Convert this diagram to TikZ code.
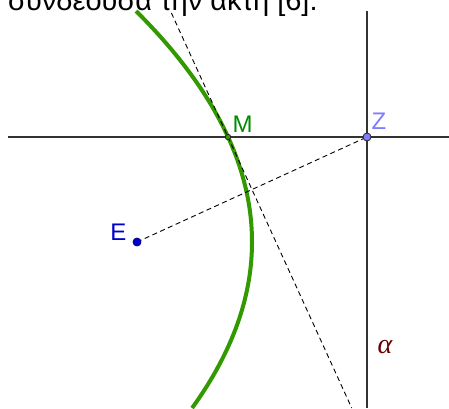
\documentclass[tikz,border=0pt]{standalone}
\usepackage{fontspec}
\setmainfont{Liberation Sans}
\newfontfamily\alphafont{Liberation Serif}
\definecolor{pargreen}{RGB}{51,153,0}
\definecolor{mgreen}{RGB}{0,140,0}
\definecolor{zblue}{RGB}{125,125,255}
\definecolor{eblue}{RGB}{0,0,204}
\definecolor{alphared}{RGB}{102,0,0}
\begin{document}
\begin{tikzpicture}[
            x=1pt, y=-1pt,
            guide/.style={draw=black!80, line width=1.3pt},
            aux/.style={draw=black, line width=0.9pt, dash pattern=on 5pt off 3.5pt},
            parab/.style={draw=pargreen, line width=4pt},
            ptdot/.style={circle, draw=black!85, line width=0.8pt, inner sep=0pt, minimum size=#1},
            lbl/.style={inner sep=0pt, font=\fontsize{24}{28}\selectfont}
        ]
        \useasboundingbox (0,0) rectangle (449,408);
        \clip (0,0) rectangle (449,408);

        % ==========================================
        % TEXT LINE (cut off by the frame)
        % ==========================================
        \node[anchor=base west, inner sep=0pt, font=\fontsize{29}{34}\selectfont] (caption) at (8,10) {συνδέουσα την ακτή [6].};

        % Points and free ends
        \coordinate (e) at (137,242);
        \coordinate (m) at (228,137);
        \coordinate (z) at (367,137);
        \coordinate (hl) at (8,137);
        \coordinate (hr) at (449,137);
        \coordinate (atop) at (367,11);
        \coordinate (abot) at (367,408);
        \coordinate (ttop) at (171.4,13);
        \coordinate (tbot) at (351.7,408);

        % ==========================================
        % LINES
        % ==========================================
        \draw[guide] (hl) -- (hr);
        \draw[guide] (atop) -- (abot);

        % Parabola: focus E, directrix alpha
        \draw[parab] plot[domain=11:408, samples=90, smooth] ({252-((\x-242)/21.448)^2}, \x);

        % Dashed: E to Z, tangent at M
        \draw[aux] (e) -- (z);
        \draw[aux] (ttop) -- (tbot);

        % ==========================================
        % POINTS AND LABELS
        % ==========================================
        \node[ptdot=8pt, fill=zblue] (Zdot) at (z) {};
        \node[ptdot=5.5pt, fill=pargreen] (Mdot) at (m) {};
        \node[ptdot=8pt, fill=eblue, draw=eblue!70!black] (Edot) at (e) {};

        \node[lbl, text=zblue] (Zlbl) at (379,121.5) {Z};
        \node[lbl, text=mgreen] (Mlbl) at (242.5,124.5) {M};
        \node[lbl, text=eblue] (Elbl) at (118.5,232.5) {E};
        \node[inner sep=0pt, text=alphared, font=\alphafont\itshape\fontsize{28}{32}\selectfont] (alpha) at (385,347) {α};

        \end{tikzpicture}
\end{document}
